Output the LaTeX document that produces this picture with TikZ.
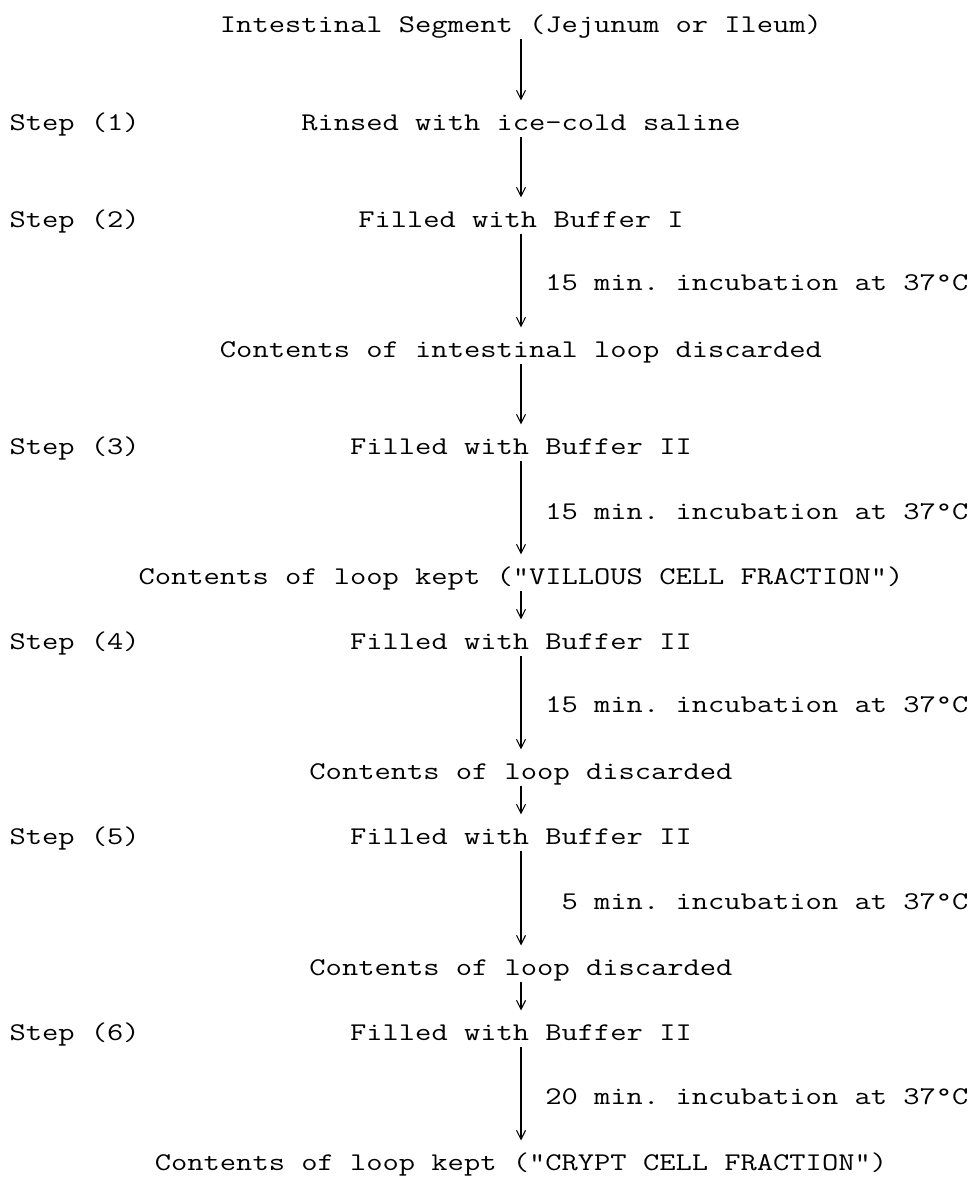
\documentclass[tikz,border=0pt]{standalone}
\usepackage{fontspec}
\setmonofont[FakeStretch=1.24]{Latin Modern Mono}
\usetikzlibrary{arrows.meta}
\tikzset{
    txt/.style={inner sep=0, text height=.59cm, text depth=.12cm, font=\ttfamily\fontsize{14.5}{17}\selectfont},
}
\begin{document}
\begin{tikzpicture}[>={Straight Barb[length=1.8mm, width=1.8mm]}, line width=.6pt]
    \useasboundingbox (0, 0) rectangle (19.42, -23.62);
    \node[txt, anchor=base] (seg) at (10.42, -.65) {Intestinal Segment (Jejunum or Ileum)};
    \node[txt, anchor=base] (rinse) at (10.42, -2.61) {Rinsed with ice-cold saline};
    \node[txt, anchor=base] (fill1) at (10.42, -4.55) {Filled with Buffer I};
    \node[txt, anchor=base] (disc1) at (10.42, -7.15) {Contents of intestinal loop discarded};
    \node[txt, anchor=base] (fill2) at (10.42, -9.09) {Filled with Buffer II};
    \node[txt, anchor=base] (villi) at (10.42, -11.69) {Contents of loop kept ("VILLOUS CELL FRACTION")};
    \node[txt, anchor=base] (fill3) at (10.42, -12.99) {Filled with Buffer II};
    \node[txt, anchor=base] (disc2) at (10.42, -15.59) {Contents of loop discarded};
    \node[txt, anchor=base] (fill4) at (10.42, -16.89) {Filled with Buffer II};
    \node[txt, anchor=base] (disc3) at (10.42, -19.51) {Contents of loop discarded};
    \node[txt, anchor=base] (fill5) at (10.42, -20.81) {Filled with Buffer II};
    \node[txt, anchor=base] (crypt) at (10.42, -23.41) {Contents of loop kept ("CRYPT CELL FRACTION")};
    % step numbers
    \node[txt, anchor=base west] (s1) at (.18, -2.61) {Step (1)};
    \node[txt, anchor=base west] (s2) at (.18, -4.55) {Step (2)};
    \node[txt, anchor=base west] (s3) at (.18, -9.09) {Step (3)};
    \node[txt, anchor=base west] (s4) at (.18, -12.99) {Step (4)};
    \node[txt, anchor=base west] (s5) at (.18, -16.89) {Step (5)};
    \node[txt, anchor=base west] (s6) at (.18, -20.81) {Step (6)};
    % incubation times
    \node[txt, anchor=base east] (inc1) at (19.38, -5.81) {15 min. incubation at 37°C};
    \node[txt, anchor=base east] (inc2) at (19.38, -10.39) {15 min. incubation at 37°C};
    \node[txt, anchor=base east] (inc3) at (19.38, -14.25) {15 min. incubation at 37°C};
    \node[txt, anchor=base east] (inc4) at (19.38, -18.19) {5 min. incubation at 37°C};
    \node[txt, anchor=base east] (inc5) at (19.38, -22.09) {20 min. incubation at 37°C};
    \draw[->] (seg) -- (rinse);
    \draw[->] (rinse) -- (fill1);
    \draw[->] (fill1) -- (disc1);
    \draw[->] (disc1) -- (fill2);
    \draw[->] (fill2) -- (villi);
    \draw[->] (villi) -- (fill3);
    \draw[->] (fill3) -- (disc2);
    \draw[->] (disc2) -- (fill4);
    \draw[->] (fill4) -- (disc3);
    \draw[->] (disc3) -- (fill5);
    \draw[->] (fill5) -- (crypt);
\end{tikzpicture}
\end{document}
